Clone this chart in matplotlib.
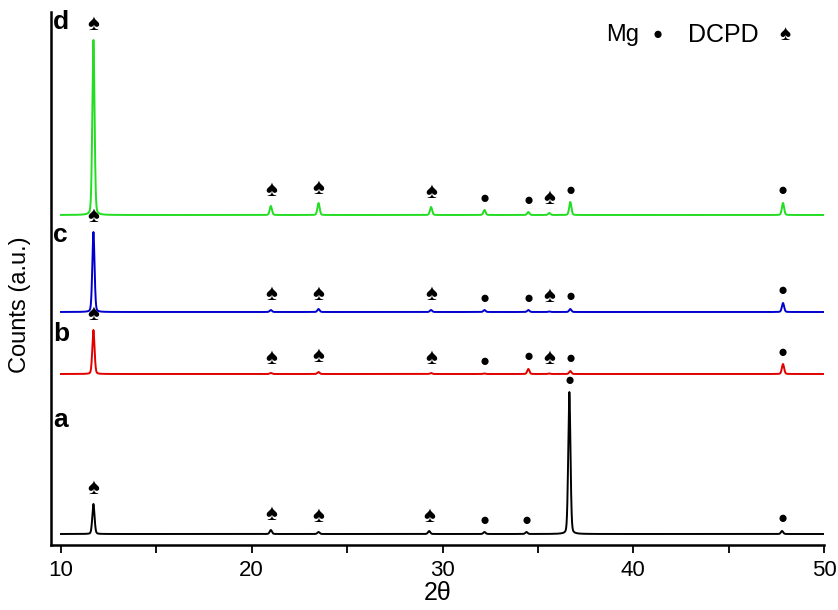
import numpy as np
import matplotlib.pyplot as plt

plt.rcParams['font.family'] = ['Liberation Sans', 'DejaVu Sans']

# peak positions (2theta) and phase of each peak: 'S' = DCPD (spade), 'M' = Mg (dot)
pos_a = [11.7, 21.0, 23.5, 29.3, 32.2, 34.4, 36.65, 47.8]
phase_a = ['S', 'S', 'S', 'S', 'M', 'M', 'M', 'M']
hgt_a = [30, 4, 2, 3, 2, 2, 142, 3]

pos_bcd = [11.7, 21.0, 23.5, 29.4, 32.2, 34.5, 35.6, 36.7, 47.85]
phase_bcd = ['S', 'S', 'S', 'S', 'M', 'M', 'S', 'M', 'M']
hgt_b = [44, 1, 2, 1, 0.5, 5, 0.5, 3, 10]
hgt_c = [80, 2, 3, 2, 2, 2, 0.5, 3, 9]
hgt_d = [175, 9, 12, 8, 5, 3, 2, 13, 12]

labels = ['a', 'b', 'c', 'd']
baselines = [11, 171, 233, 330]
colors = ['black', '#e00000', '#0000cc', '#22dd22']

traces = [(pos_a, phase_a, hgt_a), (pos_bcd, phase_bcd, hgt_b),
          (pos_bcd, phase_bcd, hgt_c), (pos_bcd, phase_bcd, hgt_d)]

x = np.linspace(10, 50, 6000)

fig = plt.figure(figsize=(8.38, 6.10), dpi=100)
ax = fig.add_axes([51/838, 1 - 545/610, 773/838, 533/610])

for (pos, ph, h), base, col, lab in zip(traces, baselines, colors, labels):
    y = np.full_like(x, base, dtype=float)
    for p, hh in zip(pos, h):
        # pseudo-voigt peak shape
        g = np.exp(-0.5 * ((x - p) / 0.06) ** 2)
        l = 1 / (1 + ((x - p) / 0.06) ** 2)
        y += hh * (0.75 * g + 0.25 * l)
    ax.plot(x, y, color=col, lw=1.4)
    for p, hh, s in zip(pos, h, ph):
        if s == 'S':
            ax.text(p, base + hh + 15, '\u2660', ha='center', va='center', fontsize=16, color='black')
        else:
            ax.text(p, base + hh + 12, '\u25cf', ha='center', va='center', fontsize=12, color='black')

# sample labels
lab_y = [125, 211, 310, 523]
for lab, ly in zip(labels, lab_y):
    ax.text(9.6, ly, lab, ha='left', va='center', fontsize=19, fontweight='bold')

ax.text(0.718, 0.957, 'Mg', transform=ax.transAxes, ha='left', va='center', fontsize=17)
ax.text(0.784, 0.957, '\u25cf', transform=ax.transAxes, ha='center', va='center', fontsize=12)
ax.text(0.824, 0.957, 'DCPD', transform=ax.transAxes, ha='left', va='center', fontsize=18)
ax.text(0.950, 0.957, '\u2660', transform=ax.transAxes, ha='center', va='center', fontsize=15)

ax.set_xlim(10 - 10/19.075, 50)
ax.set_ylim(0, 533)
ax.set_xticks([10, 20, 30, 40, 50])
ax.set_xticks([15, 25, 35, 45], minor=True)
ax.set_yticks([])
ax.tick_params(axis='x', which='both', direction='out', length=6, width=1.3, labelsize=16, pad=5)
ax.spines['top'].set_visible(False)
ax.spines['right'].set_visible(False)
ax.spines['left'].set_linewidth(1.8)
ax.spines['bottom'].set_linewidth(1.8)
ax.set_xlabel('2\u03b8', fontsize=18, labelpad=0)
ax.set_ylabel('Counts (a.u.)', fontsize=17)
ax.yaxis.set_label_coords(-0.026, 0.45)

fig.savefig('out.png', dpi=100)
